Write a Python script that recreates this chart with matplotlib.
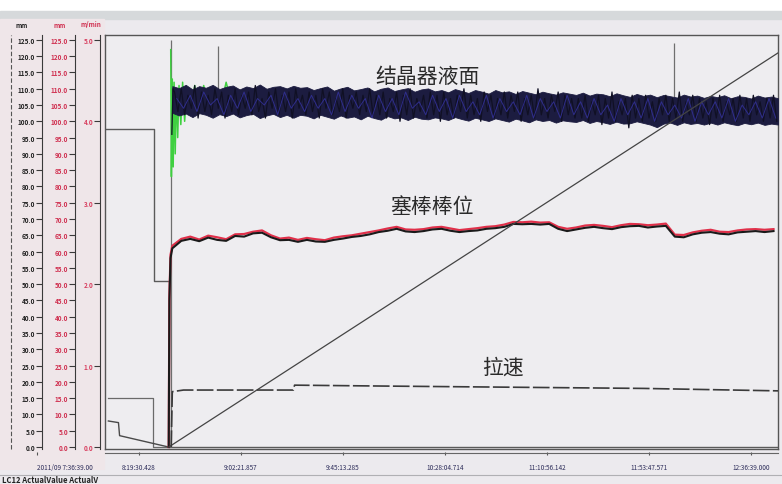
import numpy as np
import matplotlib.pyplot as plt
from matplotlib.lines import Line2D
from matplotlib.patches import Rectangle

plt.rcParams['font.family'] = ['Noto Sans CJK SC', 'DejaVu Sans']

# time axis in minutes after 7:36:39 (5 h window)
time_labels = ['2011/09 7:36:39.00', '8:19:30.428', '9:02:21.857', '9:45:13.285',
               '10:28:04.714', '11:10:56.142', '11:53:47.571', '12:36:39.000']

# thin grey traces before start (mm)
t_pre = [0, 22, 22, 28.4, 28.4, 300]
pre_mm = [97.5, 97.5, 51, 51, 0, 0]
t_box = [1.5, 21.3, 21.3, 28.4]
box_mm = [15, 15, 0, 0]
t_ramp = [1.5, 6, 6.5, 28.4]
ramp_mm = [8, 7.5, 3.5, 0]

# diagonal trace (mm)
t_diag = [28.4, 300]
diag_mm = [0, 121]

# 拉速 (m/min)
t_speed = [29.5, 30, 35, 60, 84, 84.5, 120, 160, 200, 240, 260, 280, 300]
speed = [0, 0.68, 0.70, 0.70, 0.70, 0.76, 0.75, 0.74, 0.73, 0.72, 0.71, 0.70, 0.69]

# 塞棒棒位 (mm), black = actual, red = setpoint
t_stop = [28.4, 28.7, 29.2] + list(np.arange(30, 299, 4))
stop_black = [0, 45, 58,
              61.0, 63.3, 63.9, 63.2, 64.3, 63.6, 63.3, 64.8, 64.6, 65.6,
              65.8, 64.4, 63.5, 63.6, 63.0, 63.6, 63.1, 63.0, 63.6, 64.0,
              64.5, 64.8, 65.3, 66.0, 66.4, 67.0, 66.2, 66.0, 66.3, 66.8,
              67.0, 66.4, 66.0, 66.3, 66.5, 67.0, 67.2, 67.6, 68.5, 68.4,
              68.5, 68.3, 68.5, 67.0, 66.3, 66.8, 67.3, 67.6, 67.2, 66.9,
              67.5, 67.8, 67.9, 67.4, 67.7, 67.9, 64.6, 64.4, 65.3, 65.8,
              66.0, 65.5, 65.3, 65.9, 66.1, 66.3, 66.0, 66.3]
stop_red = [0, 46, 59,
            61.8, 63.9, 64.6, 63.7, 64.9, 64.4, 63.8, 65.3, 65.4, 66.1,
            66.5, 65.0, 64.0, 64.3, 63.6, 64.2, 63.8, 63.5, 64.3, 64.7,
            65.0, 65.5, 66.0, 66.5, 67.1, 67.6, 66.8, 66.7, 66.9, 67.4,
            67.6, 67.1, 66.6, 66.9, 67.2, 67.6, 67.8, 68.3, 69.1, 69.0,
            69.2, 68.9, 69.0, 67.6, 67.0, 67.4, 68.0, 68.2, 67.9, 67.5,
            68.1, 68.5, 68.4, 68.1, 68.3, 68.6, 65.2, 65.1, 65.9, 66.4,
            66.7, 66.1, 66.0, 66.5, 66.8, 66.9, 66.7, 66.9]

# 结晶器液面 (mm): max / min envelope of the dense trace
t_env = np.arange(30, 301, 3)
env_hi = [110.8, 110.2, 111.2, 109.8, 110.8, 110.3, 111.2, 109.9, 110.6, 111, 109.8, 110.7, 110.2, 111.3, 110, 110.6, 110.8, 110.1, 110.9, 110.3,
          110.5, 109.6, 110.2, 110.7, 109.4, 110.1, 110.6, 109.5, 109.9, 110.4, 109.2, 110, 110.4, 109.3, 109.8, 110.2, 109.1, 109.8, 110.1, 109.2,
          109.6, 108.9, 109.9, 109.3, 108.7, 109.6, 109.1, 108.5, 109.6, 108.9, 109.2, 108.4, 109.3, 108.8, 108.3, 109.1, 108.6, 108.2, 108.9, 108.5,
          108.1, 108.8, 107.9, 108.5, 108.3, 107.7, 108.6, 108, 107.5, 108.4, 107.8, 108.2, 107.4, 108.1, 107.7, 107.3, 108.2, 107.6, 107.9, 107.2,
          107.8, 107.4, 108, 107.1, 107.7, 107.5, 107, 107.9, 107.3, 107.6, 107.1]
env_lo = [102.6, 101.8, 102.4, 101.3, 102.5, 102, 101.1, 102.2, 101.6, 102.4, 101.2, 101.9, 102.3, 101, 101.8, 102.3, 101.3, 102, 101.1, 102,
          101.7, 100.9, 102, 101.4, 100.8, 101.8, 101.1, 101.5, 100.6, 101.7, 101, 100.5, 101.6, 100.9, 101.2, 100.4, 101.4, 100.8, 100.6, 101.2,
          100.9, 100.4, 101.3, 100.7, 100.2, 101.1, 100.6, 100.1, 100.9, 100.4, 99.9, 100.8, 100.3, 99.7, 100.6, 100.1, 100.4, 99.6, 100.3, 100,
          99.8, 100.4, 99.5, 100.1, 99.7, 99.2, 99.9, 99.3, 99.4, 100, 99.5, 99, 98.2, 99.3, 99.6, 98.9, 99.7, 99.2, 99.5, 99,
          99.6, 99, 99.7, 99.2, 98.8, 99.5, 99.1, 99.6, 98.9, 99.3, 99]
t_level = [29.8, 30.3] + list(np.arange(31, 300, 1.5))
level = [96, 110,
         109, 103, 110, 102, 108, 104, 111, 101, 109, 103, 108, 102, 110, 104, 109, 101, 108, 103, 110, 102,
         108, 104, 109, 102, 111, 103, 107, 101, 109, 104, 110, 102, 108, 103, 109, 101, 110, 104, 108, 102,
         109, 103, 108, 101, 110, 104, 109, 102, 107, 103, 110, 101, 108, 104, 109, 102, 108, 103, 110, 102,
         108, 102, 109, 101, 107, 103, 109, 100, 108, 102, 110, 101, 107, 103, 108, 101, 109, 102, 108, 100,
         109, 102, 107, 101, 108, 103, 110, 101, 108, 102, 107, 100, 109, 103, 108, 101, 107, 102, 109, 101,
         108, 103, 109, 100, 107, 102, 108, 101, 110, 102, 107, 101, 108, 103, 109, 100, 108, 102, 107, 101,
         107, 101, 108, 100, 106, 102, 108, 99, 107, 101, 109, 100, 106, 102, 107, 98, 108, 101, 107, 100,
         108, 101, 106, 100, 107, 102, 108, 100, 107, 101, 109, 100, 106, 102, 108, 100, 107, 101, 106, 99,
         107, 101, 108, 100, 106, 102, 107, 100, 108, 101, 107, 100, 108, 102, 106, 100, 107, 101, 108, 100]
t_level_b = np.arange(32, 300, 3)
level_b = [107, 104, 108, 103, 109, 105, 107, 102, 108, 104, 109, 103, 107, 105, 108, 102, 109, 104, 107, 103,
           108, 104, 107, 102, 109, 103, 108, 104, 107, 101, 108, 103, 107, 102, 109, 104, 106, 102, 108, 103,
           107, 101, 108, 103, 106, 102, 108, 101, 107, 103, 106, 102, 108, 101, 107, 103, 106, 101, 108, 102,
           106, 101, 107, 102, 105, 100, 107, 102, 106, 101, 107, 100, 106, 102, 105, 101, 107, 100, 106, 102,
           106, 101, 107, 100, 105, 102, 106, 101, 107, 101]
t_green = [29.3, 29.6, 30.0, 30.4, 30.8, 31.3, 31.8, 32.4, 33.0, 33.8, 34.6, 35.5, 36.5, 38, 40,
           42, 44, 46, 48, 51, 54, 57, 60]
green = [122, 83, 113, 86, 112, 90, 110, 95, 111, 99, 112, 100, 110, 102, 111,
         103, 111, 104, 110, 103, 112, 104, 109]
# thin vertical strokes (start of casting and two level spikes)
spike_t = [29.3, 50.5, 253.8]
spike_top = [125, 123, 124]
spike_base = [0, 106, 104]

W, H = 782, 485
def fx(px):
    return px / W
def fy(py):
    return 1 - py / H

fig = plt.figure(figsize=(7.82, 4.85), dpi=100, facecolor='#eceaee')
fig.patches.append(Rectangle((0, fy(12)), 1, 12 / H, transform=fig.transFigure, color='white', zorder=-2))
fig.patches.append(Rectangle((0, fy(20)), 1, 8 / H, transform=fig.transFigure, color='#d6d9db', zorder=-2))
fig.patches.append(Rectangle((0, fy(470)), fx(104), 450 / H, transform=fig.transFigure, color='#efe6e9', zorder=-2))

bottom, height = fy(450), 414 / H
ylo, yhi = -0.6, 126.5

ax = fig.add_axes([fx(105), bottom, fx(673), height])
ax.set_facecolor('#eeedf0')
ax.set_xlim(0, 300)
ax.set_ylim(ylo, yhi)
ax.set_xticks([])
ax.set_yticks([])
for s in ax.spines.values():
    s.set_color('#555555')
    s.set_linewidth(1)

ax.plot(t_pre, pre_mm, color='#5a5a5a', lw=1)
ax.plot(t_box, box_mm, color='#6a6a6a', lw=0.9)
ax.plot(t_ramp, ramp_mm, color='#4a4a4a', lw=1)
ax.vlines(spike_t, spike_base, spike_top, color='#6f6f6f', lw=0.9, zorder=3)
ax.plot(t_green, green, color='#3fd040', lw=1.1, zorder=3)
ax.fill_between(t_env, env_lo, env_hi, color='#1c1c40', lw=0.6, zorder=4)
ax.plot(t_level, level, color='#101024', lw=0.9, zorder=4.5)
ax.plot(t_level_b, level_b, color='#33319a', lw=0.7, alpha=0.85, zorder=5)
ax.plot(t_stop, stop_red, color='#e0304a', lw=1.6, zorder=4)
ax.plot(t_stop, stop_black, color='#1a1a1a', lw=1.5, zorder=5)
ax.plot(t_diag, diag_mm, color='#444444', lw=0.9, zorder=6)

axv = ax.twinx()
axv.set_ylim(ylo / 25, yhi / 25)
axv.set_yticks([])
for s in axv.spines.values():
    s.set_visible(False)
axv.plot(t_speed, speed, color='#3a3a3a', lw=1.2, dashes=(10, 2))

ax.text(144, 113.9, '结晶器液面', fontsize=15, color='#2a2a2a', ha='center', va='center')
ax.text(145.8, 74, '塞棒棒位', fontsize=15, color='#2a2a2a', ha='center', va='center')
ax.text(177.4, 24.6, '拉速', fontsize=15, color='#2a2a2a', ha='center', va='center')

# three left scales
scales = [(42, np.arange(0, 126, 5), '#222222', 1),
          (75, np.arange(0, 126, 5), '#d03050', 1),
          (100, np.arange(0, 6, 1), '#d84060', 25)]
for xs, ticks, col, k in scales:
    a = fig.add_axes([fx(xs), bottom, 0.0005, height])
    a.set_facecolor('none')
    a.set_ylim(ylo / k, yhi / k)
    a.set_xticks([])
    a.set_yticks(ticks)
    a.set_yticklabels([f'{v:.1f}' for v in ticks])
    for name, s in a.spines.items():
        s.set_visible(name == 'left')
    a.spines['left'].set_color('#3a3a3a')
    a.tick_params(axis='y', length=4, width=0.8, pad=1, labelsize=4.6,
                  labelcolor=col, color='#3a3a3a')
    for lb in a.get_yticklabels():
        lb.set_fontweight('bold')

fig.add_artist(Line2D([fx(11), fx(11)], [fy(450), fy(36)], color='#555555', lw=0.8, ls=(0, (4, 2))))
fig.text(fx(22), fy(25), 'mm', fontsize=4.6, color='#222222', ha='center', va='center', weight='bold')
fig.text(fx(60), fy(25), 'mm', fontsize=4.6, color='#d03050', ha='center', va='center', weight='bold')
fig.text(fx(91), fy(25), 'm/min', fontsize=4.6, color='#d03050', ha='center', va='center', weight='bold')

# time labels
axt = fig.add_axes([fx(37), fy(453), fx(714), 0.0005])
axt.set_facecolor('none')
axt.set_xlim(0, 300)
axt.set_yticks([])
axt.set_xticks(np.linspace(0, 300, 8))
axt.set_xticklabels(time_labels)
for s in axt.spines.values():
    s.set_visible(False)
axt.tick_params(axis='x', length=2, pad=6, labelsize=4.6, labelcolor='#2d2d5a', color='#555555')
axt.get_xticklabels()[0].set_ha('left')

fig.add_artist(Line2D([fx(105), fx(778)], [fy(454), fy(454)], color='#666666', lw=0.8))
fig.add_artist(Line2D([0, 1], [fy(476), fy(476)], color='#b0b0b4', lw=0.8))
fig.text(fx(2), fy(481), 'LC12 ActualValue ActualV', fontsize=5.5, color='#222222',
         ha='left', va='center', weight='bold')

fig.savefig('out.png', dpi=100, facecolor=fig.get_facecolor())
